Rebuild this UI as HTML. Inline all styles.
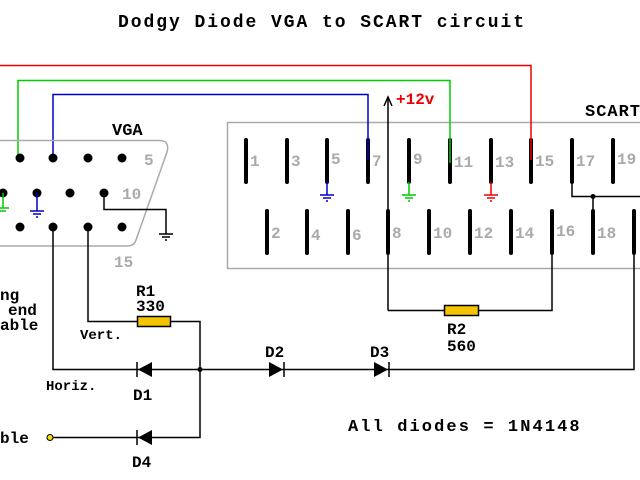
<!DOCTYPE html>
<html><head><style>
body{margin:0;background:#fff}
svg{display:block}
text{font-family:"Liberation Mono",monospace;font-weight:bold}
</style></head><body>
<svg width="640" height="480" viewBox="0 0 640 480" xmlns="http://www.w3.org/2000/svg">
<text x="118" y="27" font-size="18" letter-spacing="1.95">Dodgy Diode VGA to SCART circuit</text>
<rect x="227.5" y="122.5" width="420" height="146" fill="none" stroke="#aaa" stroke-width="1.5"/>
<text x="585" y="116" font-size="17" letter-spacing="1">SCART</text>
<g stroke="#000" stroke-width="4" stroke-linecap="round">
<line x1="246" y1="140" x2="246" y2="182"/><line x1="287" y1="140" x2="287" y2="182"/>
<line x1="327" y1="140" x2="327" y2="182"/><line x1="368" y1="140" x2="368" y2="182"/>
<line x1="409" y1="140" x2="409" y2="182"/><line x1="450" y1="140" x2="450" y2="182"/>
<line x1="491" y1="140" x2="491" y2="182"/><line x1="531" y1="140" x2="531" y2="182"/>
<line x1="572" y1="140" x2="572" y2="182"/><line x1="613" y1="140" x2="613" y2="182"/>
<line x1="267" y1="211" x2="267" y2="253"/><line x1="307" y1="211" x2="307" y2="253"/>
<line x1="348" y1="211" x2="348" y2="253"/><line x1="388" y1="211" x2="388" y2="253"/>
<line x1="429" y1="211" x2="429" y2="253"/><line x1="470" y1="211" x2="470" y2="253"/>
<line x1="511" y1="211" x2="511" y2="253"/><line x1="552" y1="211" x2="552" y2="253"/>
<line x1="593" y1="211" x2="593" y2="253"/><line x1="634" y1="211" x2="634" y2="253"/>
</g>
<g fill="#aaa" font-size="16">
<text x="250" y="166">1</text><text x="291" y="166">3</text><text x="331" y="164">5</text><text x="372" y="166">7</text>
<text x="413" y="164">9</text><text x="454" y="167">11</text><text x="495" y="167">13</text><text x="535" y="166">15</text>
<text x="576" y="166">17</text><text x="617" y="164">19</text>
<text x="271" y="238">2</text><text x="311" y="240">4</text><text x="352" y="240">6</text><text x="392" y="238">8</text>
<text x="433" y="238">10</text><text x="474" y="238">12</text><text x="515" y="238">14</text><text x="556" y="236">16</text>
<text x="597" y="238">18</text>
</g>
<polyline points="0,65.5 531,65.5 531,160" fill="none" stroke="#e00" stroke-width="1.5"/>
<polyline points="18,158 18,80.5 450,80.5 450,163" fill="none" stroke="#0c0" stroke-width="1.5"/>
<polyline points="53,158 53,94.5 368,94.5 368,160" fill="none" stroke="#00c" stroke-width="1.5"/>
<g stroke-width="1.5" fill="none">
<path d="M327 182V195M320 195H334M323 198H331M326 201H328" stroke="#00c"/>
<path d="M409 182V195M402 195H416M405 198H413M408 201H410" stroke="#0c0"/>
<path d="M491 182V195M484 195H498M487 198H495M490 201H492" stroke="#e00"/>
</g>
<g stroke="#000" stroke-width="1.5" fill="none">
<polyline points="572,182 572,196.5 640,196.5"/>
<line x1="593" y1="196" x2="593" y2="211"/>
<line x1="388" y1="98" x2="388" y2="310.5"/>
<polyline points="384,106 388,97 392,106"/>
<polyline points="388,310.5 552,310.5 552,253"/>
<polyline points="634,253 634,369.5 380,369.5"/>
</g>
<circle cx="593" cy="196.5" r="2.5"/>
<text x="396" y="104" font-size="16" fill="#e00">+12v</text>
<rect x="444.5" y="305.5" width="34" height="10" fill="#f5c400" stroke="#000" stroke-width="1.5"/>
<text x="447" y="334" font-size="16">R2</text><text x="447" y="351" font-size="16">560</text>
<path d="M-5 140.5H160Q170 141 167 152L136 240Q134 246 127 246H-5" fill="none" stroke="#aaa" stroke-width="1.5"/>
<text x="112" y="135" font-size="17">VGA</text>
<g>
<circle cx="20" cy="158" r="4.5"/><circle cx="53" cy="158" r="4.5"/><circle cx="88" cy="158" r="4.5"/><circle cx="122" cy="158" r="4.5"/>
<circle cx="3" cy="193" r="4.5"/><circle cx="37" cy="193" r="4.5"/><circle cx="70" cy="193" r="4.5"/><circle cx="104" cy="193" r="4.5"/>
<circle cx="20" cy="227" r="4.5"/><circle cx="53" cy="227" r="4.5"/><circle cx="88" cy="227" r="4.5"/><circle cx="122" cy="227" r="4.5"/>
</g>
<g fill="#aaa" font-size="16"><text x="144" y="165">5</text><text x="122" y="199">10</text><text x="114" y="267">15</text></g>
<g stroke-width="1.5" fill="none">
<path d="M3 193V208M-2 208H9M0 211H6" stroke="#0c0"/>
<path d="M37 193V211M30 211H44M33 214H41M36 217H38" stroke="#00c"/>
<path d="M104 193V209.5H166V234M159 234H173M162 237H170M165 240H167" stroke="#000"/>
</g>
<g stroke="#000" stroke-width="1.5" fill="none">
<polyline points="53,227 53,369.5 200,369.5 200,437.5 50,437.5"/>
<polyline points="88,227 88,321.5 200,321.5 200,370"/>
<line x1="200" y1="369.5" x2="380" y2="369.5"/>
<line x1="137" y1="362" x2="137" y2="377"/><line x1="137" y1="430" x2="137" y2="445"/>
<line x1="284" y1="362" x2="284" y2="377"/><line x1="389" y1="362" x2="389" y2="377"/>
</g>
<circle cx="200" cy="369.5" r="2.5"/>
<polygon points="138,369.5 152,362 152,377"/>
<polygon points="138,437.5 152,430 152,445"/>
<polygon points="283,369.5 269,362 269,377"/>
<polygon points="388,369.5 374,362 374,377"/>
<circle cx="50" cy="437.5" r="3" fill="#f5e000" stroke="#000"/>
<rect x="137.5" y="316.5" width="33" height="10" fill="#f5c400" stroke="#000" stroke-width="1.5"/>
<g font-size="16">
<text x="136" y="296">R1</text><text x="136" y="311">330</text>
<text x="80" y="339" font-size="14">Vert.</text>
<text x="46" y="390" font-size="14">Horiz.</text>
<text x="133" y="400">D1</text><text x="265" y="357">D2</text><text x="370" y="357">D3</text><text x="132" y="467">D4</text>
<text x="348" y="431" font-size="17" letter-spacing="2.1">All diodes = 1N4148</text>
<text x="0" y="300">ng</text><text x="8" y="315">end</text><text x="0" y="330">able</text>
<text x="0" y="443">ble</text>
</g>
</svg>
</body></html>
